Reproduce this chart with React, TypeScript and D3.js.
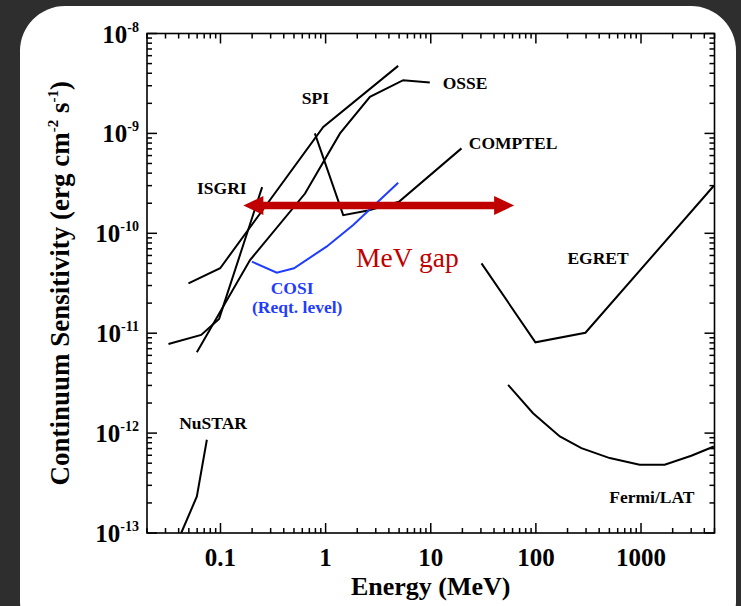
import React, { useEffect, useRef } from "react";
import * as d3 from "d3";

type Pt = [number, number];

// Energy (MeV), sensitivity (erg cm^-2 s^-1)
const isgri: Pt[] = [[0.032, 7.8e-12], [0.0655, 9.6e-12], [0.097, 1.39e-11], [0.249, 2.9e-10]];
const spi: Pt[] = [[0.0496, 3.16e-11], [0.0993, 4.47e-11], [0.95, 1.16e-9], [4.9, 4.74e-9]];
const osse: Pt[] = [[0.0596, 6.45e-12], [0.191, 5.4e-11], [0.637, 2.5e-10], [1.37, 1.0e-9], [2.64, 2.32e-9], [5.47, 3.41e-9], [9.8, 3.24e-9]];
const comptel: Pt[] = [[0.79, 1.0e-9], [1.47, 1.52e-10], [2.53, 1.69e-10], [4.98, 2.07e-10], [19.6, 7.08e-10]];
const egret: Pt[] = [[30.4, 5.0e-11], [99, 8.1e-12], [296, 1.01e-11], [4930, 2.99e-10]];
const fermi: Pt[] = [[54.4, 3.04e-12], [94, 1.58e-12], [169, 9.25e-13], [271, 7.08e-13], [504, 5.62e-13], [971, 4.82e-13], [1678, 4.82e-13], [3008, 5.93e-13], [4930, 7.35e-13]];
const nustar: Pt[] = [[0.0423, 1e-13], [0.0596, 2.32e-13], [0.0742, 8.57e-13]];
const cosi: Pt[] = [[0.199, 5.2e-11], [0.343, 4.04e-11], [0.5, 4.47e-11], [1.02, 7.35e-11], [1.83, 1.21e-10], [4.9, 3.2e-10]];

const labelText = ["ISGRI", "SPI", "OSSE", "COMPTEL", "EGRET", "NuSTAR", "Fermi/LAT"];
const labelEnergy = [0.103, 0.8, 21.2, 60.7, 390, 0.0851, 1268];
const labelSens = [2.47e-10, 1.96e-9, 2.77e-9, 6.97e-10, 4.93e-11, 1.1e-12, 2.01e-13];

const cosiText = ["COSI", "(Reqt. level)"];
const cosiTextEnergy = [0.48, 0.537];
const cosiTextSens = [2.47e-11, 1.6e-11];

// MeV gap arrow and its caption
const gapEnergy: [number, number] = [0.165, 62.1];
const gapSens = 1.9e-10;
const gapTextPos: Pt = [6.0, 4.65e-11];

const xTickLabels = ["0.1", "1", "10", "100", "1000"];
const yTickExps = [-13, -12, -11, -10, -9, -8];

const W = 741;
const H = 606;
const SERIF = "'Liberation Serif', 'Times New Roman', serif";
const RED = "#c00000";
const BLUE = "#1f3cff";

export default function App() {
  const svgRef = useRef<SVGSVGElement>(null);

  useEffect(() => {
    const svg = d3.select(svgRef.current);
    svg.selectAll("*").remove();

    const left = 147, right = 714.5, top = 33.5, bottom = 533;

    // backdrop + card
    svg.append("rect").attr("width", W).attr("height", H).attr("fill", "#2e2e2e");
    svg.append("rect")
      .attr("x", 20).attr("y", 6).attr("width", 716).attr("height", 640)
      .attr("rx", 45).attr("fill", "#fff");

    const x = d3.scaleLog().domain([0.02, 5000]).range([left, right]);
    const y = d3.scaleLog().domain([1e-13, 1e-8]).range([bottom, top]);

    const g = svg.append("g");

    // ticks on all four sides, pointing inward
    const isMajor = (v: number) => Math.abs(Math.log10(v) - Math.round(Math.log10(v))) < 1e-6;
    x.ticks().forEach(v => {
      const len = isMajor(v) ? 10 : 5;
      const px = x(v);
      g.append("line").attr("x1", px).attr("x2", px).attr("y1", bottom).attr("y2", bottom - len)
        .attr("stroke", "#000").attr("stroke-width", 1.5);
      g.append("line").attr("x1", px).attr("x2", px).attr("y1", top).attr("y2", top + len)
        .attr("stroke", "#000").attr("stroke-width", 1.5);
    });
    y.ticks().forEach(v => {
      const len = isMajor(v) ? 10 : 5;
      const py = y(v);
      g.append("line").attr("x1", left).attr("x2", left + len).attr("y1", py).attr("y2", py)
        .attr("stroke", "#000").attr("stroke-width", 1.5);
      g.append("line").attr("x1", right).attr("x2", right - len).attr("y1", py).attr("y2", py)
        .attr("stroke", "#000").attr("stroke-width", 1.5);
    });

    // frame
    g.append("rect")
      .attr("x", left).attr("y", top).attr("width", right - left).attr("height", bottom - top)
      .attr("fill", "none").attr("stroke", "#000").attr("stroke-width", 1.6);

    // tick labels
    xTickLabels.forEach(t => {
      g.append("text")
        .attr("x", x(+t)).attr("y", bottom + 33)
        .attr("text-anchor", "middle")
        .attr("font-family", SERIF).attr("font-weight", "bold").attr("font-size", 25)
        .text(t);
    });
    yTickExps.forEach(e => {
      const t = g.append("text")
        .attr("x", left - 8).attr("y", y(Math.pow(10, e)) + 9)
        .attr("text-anchor", "end")
        .attr("font-family", SERIF).attr("font-weight", "bold").attr("font-size", 25);
      t.append("tspan").text("10");
      t.append("tspan").attr("dy", -11).attr("font-size", 14).text(String(e));
    });

    // axis titles
    g.append("text")
      .attr("x", (left + right) / 2 + 0).attr("y", 595)
      .attr("text-anchor", "middle")
      .attr("font-family", SERIF).attr("font-weight", "bold").attr("font-size", 26)
      .text("Energy (MeV)");

    const yt = g.append("text")
      .attr("transform", `translate(69, ${(top + bottom) / 2}) rotate(-90)`)
      .attr("text-anchor", "middle")
      .attr("font-family", SERIF).attr("font-weight", "bold").attr("font-size", 27);
    yt.append("tspan").text("Continuum Sensitivity (erg cm");
    yt.append("tspan").attr("dy", -11).attr("font-size", 15).text("-2");
    yt.append("tspan").attr("dy", 11).text(" s");
    yt.append("tspan").attr("dy", -11).attr("font-size", 15).text("-1");
    yt.append("tspan").attr("dy", 11).text(")");

    // instrument curves
    const line = d3.line<Pt>().x(d => x(d[0])).y(d => y(d[1]));
    const plot = g.append("g");
    [isgri, spi, osse, comptel, egret, fermi, nustar].forEach(pts => {
      plot.append("path").attr("d", line(pts))
        .attr("fill", "none").attr("stroke", "#000").attr("stroke-width", 2)
        .attr("stroke-linejoin", "miter");
    });
    plot.append("path").attr("d", line(cosi))
      .attr("fill", "none").attr("stroke", BLUE).attr("stroke-width", 2);

    // instrument labels
    labelText.forEach((t, i) => {
      g.append("text")
        .attr("x", x(labelEnergy[i])).attr("y", y(labelSens[i]))
        .attr("text-anchor", "middle")
        .attr("font-family", SERIF).attr("font-weight", "bold").attr("font-size", 17.5)
        .text(t);
    });
    cosiText.forEach((t, i) => {
      g.append("text")
        .attr("x", x(cosiTextEnergy[i])).attr("y", y(cosiTextSens[i]))
        .attr("text-anchor", "middle").attr("fill", BLUE)
        .attr("font-family", SERIF).attr("font-weight", "bold").attr("font-size", 17.5)
        .text(t);
    });

    // MeV gap arrow
    const ay = y(gapSens);
    const ax0 = x(gapEnergy[0]);
    const ax1 = x(gapEnergy[1]);
    const headL = 20, headH = 9.5;
    g.append("line")
      .attr("x1", ax0 + headL - 2).attr("x2", ax1 - headL + 2)
      .attr("y1", ay).attr("y2", ay)
      .attr("stroke", RED).attr("stroke-width", 7.5);
    g.append("path")
      .attr("d", `M${ax0},${ay} L${ax0 + headL},${ay - headH} L${ax0 + headL},${ay + headH} Z`)
      .attr("fill", RED);
    g.append("path")
      .attr("d", `M${ax1},${ay} L${ax1 - headL},${ay - headH} L${ax1 - headL},${ay + headH} Z`)
      .attr("fill", RED);

    g.append("text")
      .attr("x", x(gapTextPos[0])).attr("y", y(gapTextPos[1]))
      .attr("text-anchor", "middle").attr("fill", RED)
      .attr("font-family", SERIF).attr("font-size", 27.5)
      .text("MeV gap");
  }, []);

  return (
    <>
      <style>{`body{margin:0;background:#2e2e2e;overflow:hidden}`}</style>
      <svg ref={svgRef} width={W} height={H} style={{ display: "block" }} />
    </>
  );
}
